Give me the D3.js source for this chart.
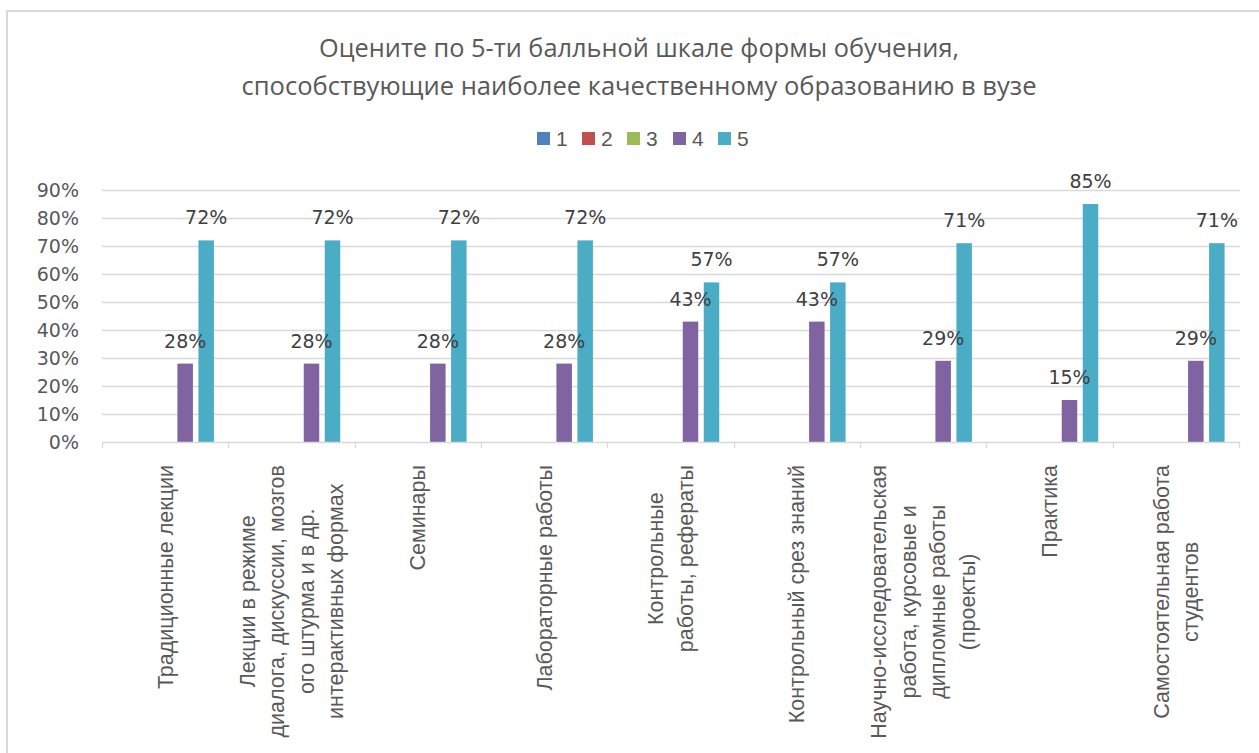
<!DOCTYPE html>
<html>
<head>
<meta charset="utf-8">
<script src="https://cdn.jsdelivr.net/npm/d3@7"></script>
<style>
  html, body { margin: 0; padding: 0; background: #fff; }
  svg { display: block; }
</style>
</head>
<body>
<svg id="chart" width="1259" height="753"></svg>
<script>
const titleLines = [
  "Оцените по 5-ти балльной шкале формы обучения,",
  "способствующие наиболее качественному образованию в вузе"
];
const categoryLines = [
  ["Традиционные лекции"],
  ["Лекции в режиме", "диалога, дискуссии, мозгов", "ого штурма и в др.", "интерактивных формах"],
  ["Семинары"],
  ["Лабораторные работы"],
  ["Контрольные", "работы, рефераты"],
  ["Контрольный срез знаний"],
  ["Научно-исследовательская", "работа, курсовые и", "дипломные работы", "(проекты)"],
  ["Практика"],
  ["Самостоятельная работа", "студентов"]
];
const seriesNames = ["1", "2", "3", "4", "5"];
const series1 = [0, 0, 0, 0, 0, 0, 0, 0, 0];
const series2 = [0, 0, 0, 0, 0, 0, 0, 0, 0];
const series3 = [0, 0, 0, 0, 0, 0, 0, 0, 0];
const series4 = [0.28, 0.28, 0.28, 0.28, 0.43, 0.43, 0.29, 0.15, 0.29];
const series5 = [0.72, 0.72, 0.72, 0.72, 0.57, 0.57, 0.71, 0.85, 0.71];
const yTicks = [0, 0.1, 0.2, 0.3, 0.4, 0.5, 0.6, 0.7, 0.8, 0.9];
const seriesColors = ["#4F81BD", "#C0504D", "#9BBB59", "#8064A2", "#4BACC6"];

const allSeries = [series1, series2, series3, series4, series5];
const catIds = categoryLines.map((d, i) => i);

const svg = d3.select("#chart");
const textCol = "#595959";

// chart frame
svg.append("rect").attr("x", 7).attr("y", 11).attr("width", 1300).attr("height", 800)
  .attr("fill", "none").attr("stroke", "#d9d9d9").attr("stroke-width", 2);

// title
const titleW = [640, 795];
const titleY = [57, 95];
titleLines.forEach((t, i) => {
  svg.append("text")
    .attr("x", 639).attr("y", titleY[i])
    .attr("text-anchor", "middle")
    .attr("font-family", "'Liberation Sans Narrow', 'Open Sans', sans-serif")
    .attr("font-size", 25)
    .attr("fill", textCol)
    .attr("textLength", titleW[i])
    .attr("lengthAdjust", "spacingAndGlyphs")
    .text(t);
});

// scales
const x0 = d3.scaleBand().domain(catIds).range([102, 1239]).padding(0);
const bw = x0.bandwidth();
const groupW = 99.5;
const x1 = d3.scaleBand().domain(seriesNames)
  .range([(bw - groupW) / 2 - 1, (bw + groupW) / 2 - 1]).paddingInner(0.262);
const y = d3.scaleLinear().domain([0, 0.9]).range([442, 190]);

// gridlines
svg.append("g").selectAll("line").data(yTicks.slice(1)).join("line")
  .attr("x1", 102).attr("x2", 1240)
  .attr("y1", d => Math.round(y(d)) + 0.5).attr("y2", d => Math.round(y(d)) + 0.5)
  .attr("stroke", "#d9d9d9").attr("stroke-width", 1.3);

// y axis labels
const yAxis = d3.axisLeft(y).tickValues(yTicks).tickFormat(d3.format(".0%")).tickSize(0).tickPadding(0);
const yg = svg.append("g").attr("transform", "translate(79,0)").call(yAxis);
yg.select(".domain").remove();
yg.selectAll("text")
  .attr("font-family", "'DejaVu Sans', Verdana, sans-serif")
  .attr("font-size", 19).attr("fill", textCol);

// bars
const groups = svg.append("g").selectAll("g").data(catIds).join("g")
  .attr("transform", d => `translate(${x0(d)},0)`);
groups.selectAll("rect")
  .data(ci => seriesNames.map((s, si) => ({ s, si, v: allSeries[si][ci] })))
  .join("rect")
  .attr("x", d => x1(d.s))
  .attr("width", x1.bandwidth())
  .attr("y", d => y(d.v))
  .attr("height", d => y(0) - y(d.v))
  .attr("fill", d => seriesColors[d.si]);

// value labels
groups.selectAll("text.val")
  .data(ci => seriesNames.map((s, si) => ({ s, si, v: allSeries[si][ci] })).filter(d => d.v > 0))
  .join("text")
  .attr("class", "val")
  .attr("x", d => x1(d.s) + x1.bandwidth() / 2)
  .attr("y", d => y(d.v) - 16)
  .attr("text-anchor", "middle")
  .attr("font-family", "'DejaVu Sans', Verdana, sans-serif")
  .attr("font-size", 19)
  .attr("fill", "#404040")
  .text(d => d3.format(".0%")(d.v));

// x baseline and ticks
svg.append("line").attr("x1", 102).attr("x2", 1240).attr("y1", 442.5).attr("y2", 442.5)
  .attr("stroke", "#d9d9d9").attr("stroke-width", 1.3);
const bounds = catIds.map(i => x0(i)).concat([1239]);
svg.append("g").selectAll("line").data(bounds).join("line")
  .attr("x1", d => Math.round(d) + 0.5).attr("x2", d => Math.round(d) + 0.5)
  .attr("y1", 442).attr("y2", 448)
  .attr("stroke", "#d9d9d9").attr("stroke-width", 1.3);

// x category labels (rotated, multi-line, centered)
const lineH = 29.5;
catIds.forEach(ci => {
  const lines = categoryLines[ci];
  const cx = x0(ci) + bw / 2;
  const g = svg.append("g").attr("transform", `translate(${cx},465) rotate(-90)`);
  const texts = lines.map((ln, li) => g.append("text")
    .attr("y", (li - (lines.length - 1) / 2) * lineH)
    .attr("dy", "0.35em")
    .attr("text-anchor", "middle")
    .attr("font-family", "'Liberation Sans', Arial, sans-serif")
    .attr("font-size", 21.5)
    .attr("fill", textCol)
    .text(ln));
  const maxL = d3.max(texts, t => t.node().getComputedTextLength());
  texts.forEach(t => t.attr("x", -maxL / 2));
});

// legend
const legX = [537, 582, 627, 673, 718];
const leg = svg.append("g").selectAll("g").data(seriesNames).join("g")
  .attr("transform", (d, i) => `translate(${legX[i]},132)`);
leg.append("rect").attr("width", 13).attr("height", 13)
  .attr("fill", (d, i) => seriesColors[i]);
leg.append("text").attr("x", 19).attr("y", 6.5).attr("dy", "0.36em")
  .attr("font-family", "'Liberation Sans', Arial, sans-serif")
  .attr("font-size", 21).attr("fill", textCol)
  .text(d => d);
</script>
</body>
</html>
